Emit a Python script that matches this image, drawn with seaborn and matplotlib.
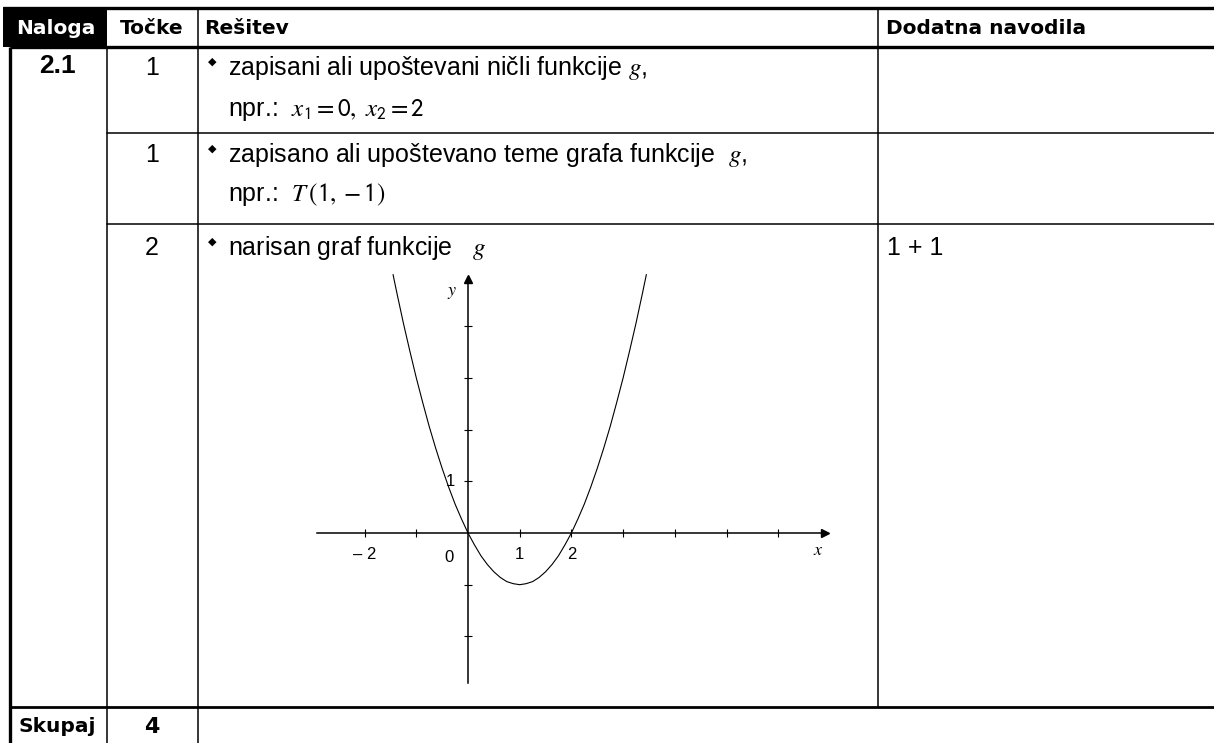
import numpy as np
import pandas as pd
import matplotlib
matplotlib.use("Agg")
import matplotlib.pyplot as plt
import seaborn as sns

# table content
header_labels = ["Naloga", "Točke", "Rešitev", "Dodatna navodila"]
task_label = "2.1"
row_points = ["1", "1", "2"]
row_lines = [
    ["zapisani ali upoštevani ničli funkcije $g$,",
     r"npr.:  $x_{\mathsf{1}} = \mathsf{0},\ x_{\mathsf{2}} = \mathsf{2}$"],
    ["zapisano ali upoštevano teme grafa funkcije  $g$,",
     r"npr.:  $T\,\left(\mathsf{1}, -\mathsf{1}\right)$"],
    ["narisan graf funkcije   $g$"],
]
row_notes = ["", "", "1 + 1"]
total_label = "Skupaj"
total_points = "4"

# graph of g
curve_x = [-1.45, -1.375, -1.25, -1.125, -1.0, -0.875, -0.75, -0.625, -0.5,
           -0.375, -0.25, -0.125, 0.0, 0.125, 0.25, 0.375, 0.5, 0.625, 0.75,
           0.875, 1.0, 1.125, 1.25, 1.375, 1.5, 1.625, 1.75, 1.875, 2.0,
           2.125, 2.25, 2.375, 2.5, 2.625, 2.75, 2.875, 3.0, 3.125, 3.25,
           3.375, 3.45]
curve_y = [5.0, 4.64, 4.06, 3.52, 3.0, 2.52, 2.06, 1.64, 1.25,
           0.89, 0.56, 0.27, 0.0, -0.23, -0.44, -0.61, -0.75, -0.86, -0.94,
           -0.98, -1.0, -0.98, -0.94, -0.86, -0.75, -0.61, -0.44, -0.23, 0.0,
           0.27, 0.56, 0.89, 1.25, 1.64, 2.06, 2.52, 3.0, 3.52, 4.06,
           4.64, 5.0]
x_ticks = [-2, -1, 1, 2, 3, 4, 5, 6]
y_ticks = [-2, -1, 1, 2, 3, 4]
x_tick_labels = {-2: "– 2", 1: "1", 2: "2"}

sns.set_style("white")
plt.rcParams['font.family'] = ['Liberation Sans', 'DejaVu Sans']
plt.rcParams['mathtext.fontset'] = 'stix'
plt.rcParams['text.color'] = 'black'

W, H = 1214, 743
fig = plt.figure(figsize=(W / 100, H / 100), dpi=100)

# ---- table drawn in pixel coordinates ----
tab = fig.add_axes([0, 0, 1, 1])
tab.set_xlim(0, W)
tab.set_ylim(H, 0)
tab.axis('off')

thin = 1.1
thick = 2.4

col_x = [9.5, 107, 198, 878]
row_y = [7.5, 47, 133, 224, 707]

# black cell behind "Naloga"
tab.add_patch(plt.Rectangle((3, 7), 104, 40, color='black', lw=0))

# outer / thick lines
tab.plot([3, W], [row_y[0], row_y[0]], color='black', lw=thick, solid_capstyle='butt')
tab.plot([col_x[0], W], [row_y[1], row_y[1]], color='black', lw=thick, solid_capstyle='butt')
tab.plot([col_x[0], W], [row_y[4], row_y[4]], color='black', lw=2.0, solid_capstyle='butt')
tab.plot([col_x[0], col_x[0]], [row_y[1], H], color='black', lw=thick, solid_capstyle='butt')

# thin lines
tab.plot([col_x[1], col_x[1]], [row_y[1], H], color='black', lw=thin)
tab.plot([col_x[2], col_x[2]], [row_y[0], H], color='black', lw=thin)
tab.plot([col_x[3], col_x[3]], [row_y[0], row_y[4]], color='black', lw=thin)
for yy in row_y[2:4]:
    tab.plot([col_x[1], W], [yy, yy], color='black', lw=thin)

# header text
hdr = dict(fontsize=14.5, fontweight='heavy', family=['DejaVu Sans'], va='center')
tab.text(56, 28, header_labels[0], color='white', ha='center', **hdr)
tab.text(152, 28, header_labels[1], color='black', ha='center', **hdr)
tab.text(204, 28, header_labels[2], color='black', ha='left', **hdr)
tab.text(886, 28, header_labels[3], color='black', ha='left', **hdr)

tab.text(57, 66, task_label, fontsize=19, fontweight='bold', ha='center', va='center')

body = 18
line_y = [[68, 110], [155, 195], [248]]
for i in range(3):
    tab.text(152, line_y[i][0], row_points[i], fontsize=body, ha='center', va='center')
    tab.text(212, line_y[i][0] - 6, "◆", fontsize=8, ha='center', va='center',
             family=['DejaVu Sans'])
    for j, txt in enumerate(row_lines[i]):
        tab.text(228, line_y[i][j], txt, fontsize=body, ha='left', va='center')
    if row_notes[i]:
        tab.text(887, line_y[i][0], row_notes[i], fontsize=body, ha='left', va='center')

tab.text(57, 727, total_label, fontsize=14.5, fontweight='heavy', family=['DejaVu Sans'],
         ha='center', va='center')
tab.text(152, 727, total_points, fontsize=16, fontweight='heavy', family=['DejaVu Sans'],
         ha='center', va='center')

# ---- graph of g ----
unit = 51.7
ox, oy = 468, 533
xlo, xhi = -3.2, 7.3
ylo, yhi = -3.0, 5.3
left_px = ox + xlo * unit
ax = fig.add_axes([left_px / W, (H - (oy - ylo * unit)) / H,
                   (xhi - xlo) * unit / W, (yhi - ylo) * unit / H])
ax.patch.set_alpha(0)

df = pd.DataFrame({'x': curve_x, 'y': curve_y})
sns.lineplot(data=df, x='x', y='y', ax=ax, color='black', lw=0.8,
             sort=False, estimator=None)
ax.set_xlim(xlo, xhi)
ax.set_ylim(ylo, yhi)
ax.set_xlabel('')
ax.set_ylabel('')

for s in ['top', 'right']:
    ax.spines[s].set_visible(False)
ax.spines['left'].set_position(('data', 0))
ax.spines['bottom'].set_position(('data', 0))
ax.spines['bottom'].set_bounds(-2.93, 6.9)
ax.spines['left'].set_bounds(-2.9, 4.92)
for s in ['left', 'bottom']:
    ax.spines[s].set_color('black')
    ax.spines[s].set_linewidth(1.1)

ax.set_xticks(x_ticks)
ax.set_yticks(y_ticks)
ax.set_xticklabels([])
ax.set_yticklabels([])
ax.tick_params(direction='inout', length=6, width=0.8, color='black',
               bottom=True, left=True)

# arrow heads
ax.plot([6.9], [0], marker='>', ms=6, color='black', clip_on=False)
ax.plot([0], [4.92], marker='^', ms=6, color='black', clip_on=False)

lbl = dict(fontsize=12, ha='center', va='center', color='black')
for xv, t in x_tick_labels.items():
    ax.text(xv, -0.42, t, **lbl)
ax.text(-0.37, -0.47, "0", **lbl)
ax.text(-0.35, 0.99, "1", **lbl)
ax.text(-0.31, 4.66, "$y$", fontsize=13, ha='center', va='center')
ax.text(6.77, -0.33, "$x$", fontsize=13, ha='center', va='center')

fig.savefig("out.png", dpi=100)
